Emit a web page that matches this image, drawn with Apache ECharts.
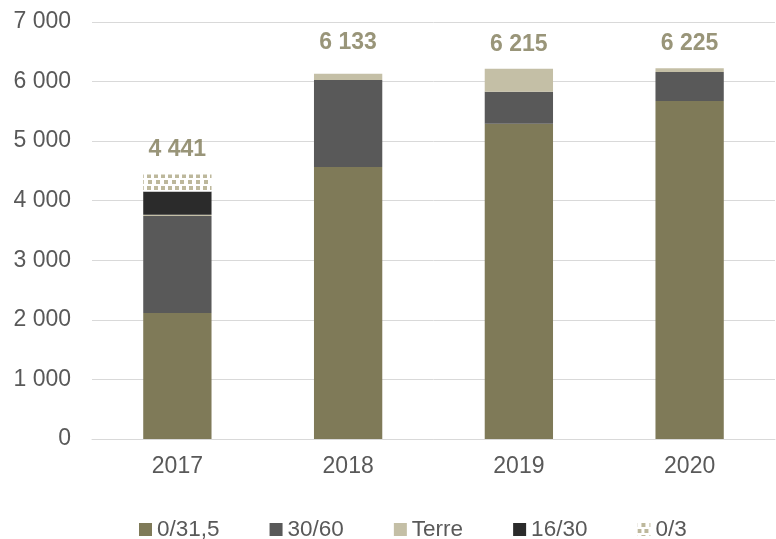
<!DOCTYPE html>
<html>
<head>
<meta charset="utf-8">
<script src="https://cdn.jsdelivr.net/npm/echarts@6/dist/echarts.min.js"></script>
<style>
html, body { margin: 0; padding: 0; background: #fff; }
#chart { width: 776px; height: 539px; }
</style>
</head>
<body>
<div id="chart"></div>
<script>
var years = ['2017', '2018', '2019', '2020'];
var gravel = [2115, 4566, 5290, 5675];   // 0/31,5
var ballast = [1630, 1460, 540, 485];    // 30/60
var soil = [20, 107, 385, 65];           // Terre
var grit = [390, 0, 0, 0];               // 16/30
var sand = [286, 0, 0, 0];               // 0/3
var totals = [4441, 6133, 6215, 6225];

var chartDom = document.getElementById('chart');
var myChart = echarts.init(chartDom, null, { renderer: 'canvas' });

var font = 'Liberation Sans, Arial, sans-serif';

function thousands(v) {
	return v >= 1000 ? Math.floor(v / 1000) + ' ' + String(v % 1000).padStart(3, '0') : String(v);
}

function barSerie(name, data, color, decal) {
	var s = {
		name: name,
		type: 'bar',
		stack: 'total',
		barWidth: '40%',
		data: data,
		itemStyle: { color: color },
		emphasis: { disabled: true }
	};
	if (decal) { s.itemStyle.decal = decal; }
	return s;
}

// étiquettes des totaux (2018 un peu plus haut comme dans l'original)
var totalData = totals.map(function (v, i) {
	return { value: v, label: { distance: i === 1 ? 19 : 13 } };
});

var option = {
	animation: false,
	textStyle: { fontFamily: font },
	grid: { left: 92, right: 1, top: 22, bottom: 100 },
	legend: {
		top: 513,
		left: 134,
		icon: 'rect',
		itemWidth: 13,
		itemHeight: 13,
		itemGap: 50,
		textStyle: { fontSize: 22.5, color: '#595959', fontFamily: font },
		data: ['0/31,5', '30/60', 'Terre', '16/30', '0/3']
	},
	xAxis: {
		type: 'category',
		data: years,
		axisLine: { lineStyle: { color: '#d9d9d9' } },
		axisTick: { show: false },
		axisLabel: { fontSize: 23, color: '#595959', margin: 16 }
	},
	yAxis: {
		type: 'value',
		min: 0,
		max: 7000,
		interval: 1000,
		axisLine: { show: false },
		axisTick: { show: false },
		splitLine: { lineStyle: { color: '#d9d9d9' } },
		axisLabel: {
			fontSize: 23,
			color: '#595959',
			margin: 21,
			formatter: thousands
		}
	},
	series: [
		barSerie('0/31,5', gravel, '#7f7a58'),
		barSerie('30/60', ballast, '#595959'),
		barSerie('Terre', soil, '#c4bfa6'),
		barSerie('16/30', grit, '#2b2b2b'),
		barSerie('0/3', sand, '#ffffff', {
			symbol: 'rect',
			symbolSize: 1,
			color: '#bdb89c',
			dashArrayX: [[4, 3], [0, 3.5, 4, 0]],
			dashArrayY: [4, 2]
		}),
		{
			name: 'total',
			type: 'scatter',
			data: totalData,
			symbolSize: 0,
			silent: true,
			label: {
				show: true,
				position: 'top',
				fontSize: 23,
				fontWeight: 'bold',
				color: '#7f7a58',
				formatter: function (p) { return thousands(p.value); }
			}
		}
	]
};

myChart.setOption(option);
window.addEventListener('resize', myChart.resize);
</script>
</body>
</html>
